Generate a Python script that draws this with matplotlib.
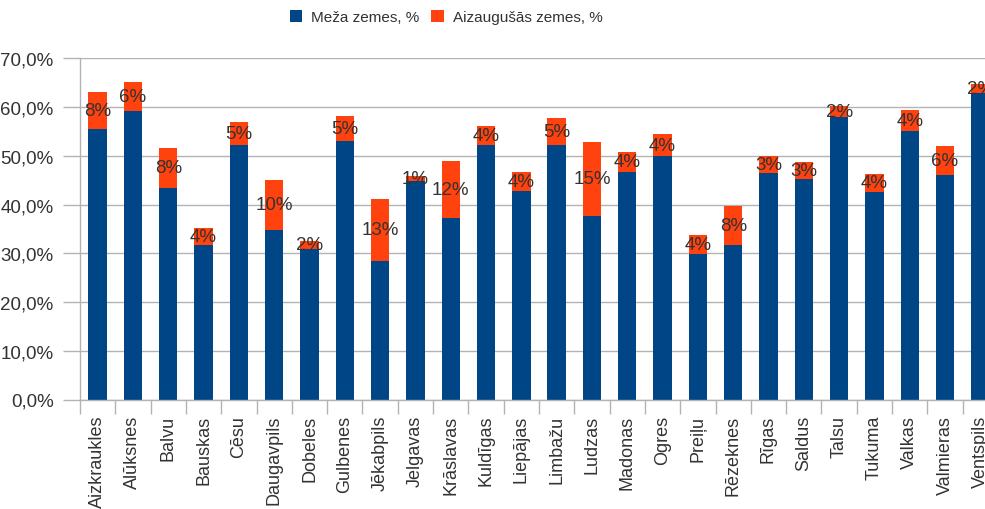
import matplotlib
matplotlib.use('Agg')
import matplotlib.pyplot as plt
from matplotlib.ticker import FuncFormatter, FixedLocator
import numpy as np

plt.rcParams['font.family'] = ['Liberation Sans', 'DejaVu Sans']

# Rajoni un vērtības (%), nolasītas no attēla
rajoni = ['Aizkraukles', 'Alūksnes', 'Balvu', 'Bauskas', 'Cēsu', 'Daugavpils',
          'Dobeles', 'Gulbenes', 'Jēkabpils', 'Jelgavas', 'Krāslavas', 'Kuldīgas',
          'Liepājas', 'Limbažu', 'Ludzas', 'Madonas', 'Ogres', 'Preiļu',
          'Rēzeknes', 'Rīgas', 'Saldus', 'Talsu', 'Tukuma', 'Valkas',
          'Valmieras', 'Ventspils']
meza = [55.5, 59.1, 43.4, 31.6, 52.3, 34.8, 30.9, 53.1, 28.5, 44.9, 37.3, 52.3,
        42.8, 52.3, 37.7, 46.7, 50.0, 29.9, 31.6, 46.5, 45.3, 58.0, 42.6, 55.1,
        46.1, 62.9]
aizaug = [7.6, 6.1, 8.2, 3.6, 4.7, 10.3, 1.6, 5.1, 12.6, 1.0, 11.6, 3.8,
          3.9, 5.4, 15.2, 4.1, 4.4, 3.8, 8.2, 3.4, 3.4, 2.2, 3.7, 4.3,
          5.9, 1.9]

blue = '#004586'
red = '#ff420e'
grid_c = '#b3b3b3'
text_c = '#333333'

fig = plt.figure(figsize=(9.85, 5.10), dpi=100)
# labā mala iziet ārpus attēla, kā oriģinālā
ax = fig.add_axes([80 / 985, 109.5 / 510, 918 / 985, 341.2 / 510])

x = np.arange(len(rajoni))
b1 = ax.bar(x, meza, width=0.52, color=blue, label='Meža zemes, %')
b2 = ax.bar(x, aizaug, width=0.52, bottom=meza, color=red,
            label='Aizaugušās zemes, %')

for xi, m, a in zip(x, meza, aizaug):
    ax.text(xi, m + a / 2, f'{round(a)}%', ha='center', va='center',
            fontsize=13.5, color=text_c)

ax.set_xlim(-0.5, len(rajoni) - 0.5)
ax.set_ylim(0, 70)
ax.set_yticks(np.arange(0, 71, 10))
ax.yaxis.set_major_formatter(FuncFormatter(lambda v, p: f'{v:.1f}%'.replace('.', ',')))
ax.tick_params(axis='y', length=12, width=1, color=grid_c, labelsize=13.5,
               labelcolor=text_c, pad=7)

ax.set_xticks(x)
ax.set_xticklabels(rajoni, rotation=90, fontsize=13, color=text_c, va='top')
ax.tick_params(axis='x', which='major', length=0, pad=11)
ax.xaxis.set_minor_locator(FixedLocator(np.arange(-0.5, len(rajoni), 1)))
ax.tick_params(axis='x', which='minor', length=10, width=1, color=grid_c)

ax.grid(axis='y', color=grid_c, linewidth=1)
ax.set_axisbelow(True)
for s in ['top', 'right']:
    ax.spines[s].set_visible(False)
for s in ['left', 'bottom']:
    ax.spines[s].set_color(grid_c)
    ax.spines[s].set_linewidth(1)

fig.legend(handles=[b1, b2], loc='center', bbox_to_anchor=(446 / 985, 1 - 18 / 510),
           ncol=2, frameon=False, fontsize=11, handlelength=0.8,
           handleheight=0.8, handletextpad=0.6, columnspacing=0.8,
           labelcolor=text_c)

fig.savefig('out.png', dpi=100)
